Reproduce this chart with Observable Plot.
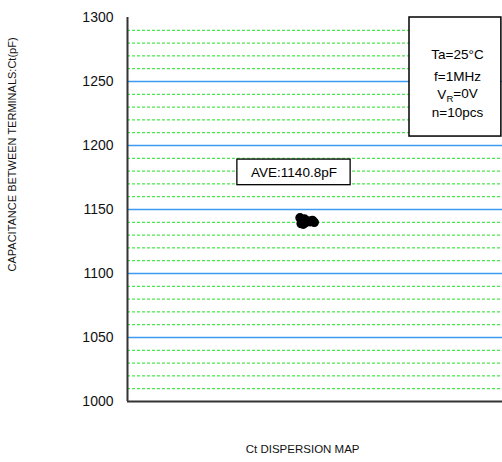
<!DOCTYPE html>
<html>
<head>
<meta charset="utf-8">
<script src="https://cdn.jsdelivr.net/npm/d3@7"></script>
<script src="https://cdn.jsdelivr.net/npm/@observablehq/plot@0.6"></script>
<style>
  html, body { margin: 0; padding: 0; background: #fff; }
  svg { display: block; }
</style>
</head>
<body>
<div id="chart"></div>
<script>
// Data: 10 pieces, capacitance Ct (pF), horizontal position within the dispersion map
const pieceX = [0.460, 0.463, 0.466, 0.469, 0.472, 0.476, 0.481, 0.487, 0.493, 0.498];
const ctValues = [1143.5, 1139.0, 1141.5, 1138.5, 1142.5, 1140.0, 1141.0, 1140.5, 1141.5, 1140.0];
const majorTicks = [1000, 1050, 1100, 1150, 1200, 1250, 1300];
const minorTicks = d3.range(1000, 1301, 10).filter(v => v % 50 !== 0);
const conditions = ["Ta=25°C", "f=1MHz", "VR=0V", "n=10pcs"];
const aveLabel = "AVE:1140.8pF";
const yTitle = "CAPACITANCE BETWEEN TERMINALS:Ct(pF)";
const xTitle = "Ct DISPERSION MAP";

const points = pieceX.map((x, i) => ({x, ct: ctValues[i]}));
const condRows = conditions.map((t, i) => ({t, y: [1271, 1253.5, 1239.5, 1225.5][i]}));

const font = "'Liberation Sans', Arial, sans-serif";

const chart = Plot.plot({
  width: 502,
  height: 462,
  marginLeft: 127,
  marginRight: 0,
  marginTop: 17,
  marginBottom: 61,
  style: {fontFamily: font, background: "#fff", overflow: "visible"},
  x: {domain: [0, 1], axis: null},
  y: {domain: [1000, 1300], axis: null},
  marks: [
    Plot.ruleY(minorTicks, {stroke: "#1fe01f", strokeWidth: 1, strokeDasharray: "3,2"}),
    Plot.ruleY(majorTicks.filter(v => v > 1000 && v < 1300), {stroke: "#3d9cf2", strokeWidth: 1.4}),
    Plot.axisY({ticks: majorTicks, tickSize: 0, tickPadding: 14, fontSize: 14, label: null, tickFormat: d => String(d), fill: "#111"}),
    Plot.ruleX([0], {y1: 1000, y2: 1300, stroke: "#333", strokeWidth: 2}),
    Plot.ruleY([1000], {stroke: "#333", strokeWidth: 2}),
    Plot.dot(points, {x: "x", y: "ct", r: 4, fill: "#000", stroke: "#000"}),
    // average annotation box
    Plot.rect([0], {x1: 0.293, x2: 0.595, y1: 1169, y2: 1189, fill: "#fff", stroke: "#000", strokeWidth: 1.3}),
    Plot.text([aveLabel], {x: 0.444, y: 1179, text: d => d, fontSize: 13.5, fill: "#000"}),
    // conditions box
    Plot.rect([0], {x1: 0.752, x2: 0.997, y1: 1207, y2: 1300, fill: "#fff", stroke: "#000", strokeWidth: 1.5}),
    Plot.text(condRows, {x: 0.88, y: "y", text: "t", fontSize: 13.5, fill: "#000", className: "cond"}),
    // axis titles
    Plot.text([yTitle], {x: -0.307, y: 1193, rotate: -90, text: d => d, fontSize: 11, fill: "#111"}),
    Plot.text([xTitle], {x: 0.467, y: 1000, dy: 48, text: d => d, fontSize: 11.5, fill: "#111"})
  ]
});

// subscript R for V_R
d3.select(chart).selectAll(".cond text").each(function() {
  const el = d3.select(this);
  if (el.text() === "VR=0V") {
    el.text(null);
    el.append("tspan").text("V");
    el.append("tspan").attr("dy", "0.3em").attr("font-size", "9.5").text("R");
    el.append("tspan").attr("dy", "-0.3em").text("=0V");
  }
});

document.getElementById("chart").appendChild(chart);
</script>
</body>
</html>
